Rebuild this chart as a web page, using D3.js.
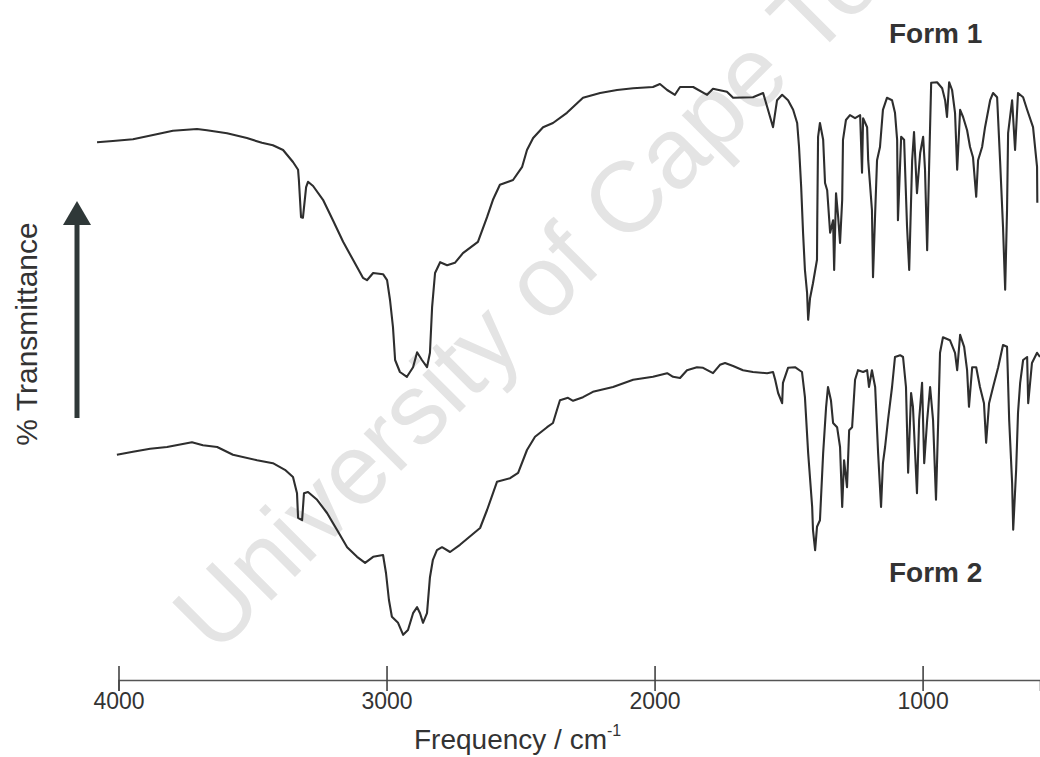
<!DOCTYPE html>
<html>
<head>
<meta charset="utf-8">
<script src="https://cdn.jsdelivr.net/npm/d3@7"></script>
<style>
  html, body { margin: 0; padding: 0; background: #ffffff; }
  svg { display: block; font-family: Arial, "Liberation Sans", sans-serif; }
</style>
</head>
<body>
<svg id="chart" width="1040" height="757"></svg>
<script>
// IR spectra of two solid forms, wavenumber (cm-1) vs. % transmittance (traces offset vertically)
const form1Wavenumber = [4080, 4021, 3946, 3871, 3797, 3707, 3670, 3595, 3521, 3465, 3424, 3386, 3349, 3330, 3327, 3319, 3312, 3300, 3293, 3274, 3237, 3200, 3162, 3125, 3088, 3073, 3050, 3013, 2998, 2987, 2976, 2968, 2950, 2924, 2901, 2886, 2868, 2849, 2838, 2830, 2819, 2800, 2774, 2745, 2715, 2659, 2625, 2603, 2577, 2528, 2494, 2476, 2453, 2416, 2379, 2327, 2267, 2203, 2140, 2080, 2006, 1980, 1953, 1924, 1905, 1856, 1804, 1782, 1730, 1707, 1633, 1595, 1580, 1558, 1543, 1524, 1502, 1483, 1468, 1461, 1453, 1446, 1439, 1431, 1427, 1420, 1409, 1394, 1393, 1390, 1383, 1371, 1364, 1356, 1345, 1334, 1330, 1323, 1315, 1308, 1300, 1297, 1286, 1271, 1252, 1233, 1226, 1222, 1207, 1203, 1189, 1185, 1177, 1170, 1159, 1148, 1133, 1114, 1103, 1095, 1092, 1080, 1069, 1058, 1050, 1039, 1032, 1021, 1009, 998, 991, 983, 976, 968, 946, 927, 916, 909, 901, 890, 879, 871, 860, 849, 834, 823, 812, 800, 793, 778, 767, 748, 737, 722, 711, 700, 692, 685, 681, 666, 655, 644, 625, 610, 588, 573, 572];
const form1Transmittance = [86.3, 86.5, 86.8, 87.5, 88.2, 88.5, 88.3, 87.8, 87.0, 86.2, 85.8, 85.0, 83.0, 81.7, 80.0, 73.8, 73.7, 78.8, 79.7, 79.0, 76.7, 73.3, 69.7, 66.7, 63.7, 63.3, 64.5, 64.3, 63.3, 60.0, 55.5, 50.0, 48.0, 47.2, 48.8, 51.3, 50.0, 48.8, 51.2, 58.8, 64.5, 66.3, 65.8, 66.2, 67.8, 69.7, 73.8, 76.7, 79.2, 80.0, 82.2, 85.0, 87.0, 88.8, 89.5, 91.2, 93.7, 94.5, 95.0, 95.3, 95.5, 96.0, 95.0, 94.2, 95.5, 95.5, 94.2, 95.2, 94.7, 93.7, 93.8, 94.5, 92.2, 88.8, 93.3, 94.2, 93.3, 91.7, 89.5, 85.5, 78.8, 71.2, 65.0, 61.2, 56.7, 60.3, 62.8, 66.7, 73.3, 87.2, 89.5, 86.7, 79.5, 78.3, 71.2, 73.3, 65.0, 77.8, 73.8, 69.5, 76.7, 86.7, 90.0, 90.8, 90.3, 90.8, 81.2, 90.3, 88.8, 83.3, 75.0, 63.8, 74.5, 83.3, 85.5, 91.7, 93.7, 93.3, 91.2, 86.7, 73.3, 87.2, 86.7, 72.2, 65.0, 83.3, 88.0, 77.8, 84.5, 87.2, 81.7, 68.3, 81.7, 96.2, 96.3, 95.3, 93.3, 90.5, 96.3, 95.0, 91.2, 81.7, 91.7, 90.5, 88.3, 85.5, 83.8, 77.2, 83.3, 85.5, 88.8, 93.3, 94.5, 93.8, 83.3, 72.2, 61.7, 75.0, 87.8, 93.3, 85.0, 94.5, 93.8, 91.7, 88.8, 82.2, 76.2];

const form2Wavenumber = [4006, 3946, 3882, 3819, 3726, 3685, 3632, 3573, 3483, 3424, 3379, 3349, 3334, 3330, 3315, 3308, 3293, 3259, 3222, 3185, 3147, 3110, 3080, 3050, 3013, 3002, 2991, 2980, 2957, 2938, 2920, 2901, 2886, 2875, 2864, 2849, 2838, 2827, 2812, 2793, 2763, 2726, 2651, 2625, 2588, 2539, 2509, 2476, 2446, 2401, 2379, 2364, 2353, 2323, 2304, 2267, 2230, 2155, 2080, 2006, 1953, 1931, 1905, 1879, 1842, 1819, 1782, 1756, 1737, 1707, 1670, 1633, 1580, 1558, 1550, 1539, 1524, 1521, 1502, 1476, 1450, 1439, 1427, 1412, 1409, 1401, 1394, 1383, 1371, 1360, 1353, 1342, 1334, 1319, 1308, 1300, 1293, 1282, 1274, 1263, 1252, 1241, 1222, 1207, 1200, 1189, 1177, 1166, 1155, 1148, 1140, 1129, 1114, 1103, 1084, 1073, 1062, 1054, 1043, 1036, 1021, 1013, 1002, 994, 983, 972, 961, 950, 942, 935, 924, 898, 879, 871, 860, 845, 834, 827, 815, 800, 786, 771, 763, 752, 737, 718, 700, 685, 677, 666, 662, 651, 644, 636, 625, 610, 606, 592, 573, 562];
const form2Transmittance = [34.2, 34.7, 35.2, 35.5, 36.3, 35.8, 35.5, 34.2, 33.3, 32.8, 31.7, 30.5, 27.8, 23.7, 23.3, 27.8, 28.0, 26.7, 24.5, 21.7, 18.8, 17.2, 16.2, 17.2, 17.5, 14.5, 10.0, 7.2, 6.2, 4.2, 5.0, 7.8, 8.8, 7.8, 6.2, 7.8, 13.8, 16.7, 18.3, 18.8, 18.0, 19.2, 22.0, 25.0, 29.7, 30.3, 31.2, 35.0, 37.2, 38.8, 39.5, 41.7, 43.3, 43.7, 43.2, 43.8, 44.7, 45.5, 46.7, 47.2, 47.8, 47.2, 47.0, 48.3, 48.8, 48.7, 47.8, 49.2, 49.5, 49.0, 48.3, 48.0, 47.8, 48.0, 46.7, 44.5, 42.8, 46.2, 48.7, 48.8, 48.0, 43.8, 34.5, 25.5, 21.7, 18.3, 22.2, 23.3, 34.5, 42.2, 45.5, 43.3, 39.5, 38.8, 35.5, 25.5, 33.3, 28.8, 38.3, 38.8, 46.7, 48.3, 48.0, 48.3, 45.5, 48.3, 45.5, 34.5, 25.5, 32.8, 35.5, 40.0, 45.5, 50.5, 50.8, 50.5, 45.5, 31.2, 44.5, 42.2, 27.8, 40.0, 46.2, 32.8, 40.0, 45.5, 40.0, 26.7, 39.5, 51.2, 53.8, 53.3, 51.2, 48.3, 54.2, 52.2, 48.3, 42.2, 48.8, 48.8, 45.5, 42.8, 36.2, 42.8, 45.5, 48.8, 52.5, 52.2, 40.0, 29.5, 21.7, 31.7, 41.2, 46.2, 50.0, 50.5, 42.8, 49.5, 51.2, 50.5];

const tickValues = [4000, 3000, 2000, 1000];
const seriesNames = ["Form 1", "Form 2"];
const xTitle = "Frequency / cm";
const xTitleSup = "-1";
const yTitle = "% Transmittance";
const watermark = "University of Cape Town";

const svg = d3.select("#chart");
const ink = "#333333";

const x = d3.scaleLinear().domain([4000, 562]).range([118.5, 1040]);
const y = d3.scaleLinear().domain([0, 100]).range([660, 60]);

// faint diagonal watermark behind the traces
svg.append("text")
  .attr("transform", "translate(596,276) rotate(-45)")
  .attr("text-anchor", "middle")
  .attr("font-size", 100)
  .attr("fill", "#e4e4e4")
  .text(watermark);

// spectra
const line = d3.line().x(d => x(d.wn)).y(d => y(d.t));
const series = [
  d3.zip(form1Wavenumber, form1Transmittance).map(([wn, t]) => ({ wn, t })),
  d3.zip(form2Wavenumber, form2Transmittance).map(([wn, t]) => ({ wn, t }))
];
svg.selectAll("path.trace")
  .data(series)
  .join("path")
  .attr("class", "trace")
  .attr("d", line)
  .attr("fill", "none")
  .attr("stroke", "#2e2e2e")
  .attr("stroke-width", 2.1)
  .attr("stroke-linejoin", "round");

// series labels
svg.append("text").attr("x", 889).attr("y", 43)
  .attr("font-size", 28).attr("font-weight", "bold").attr("fill", ink)
  .text(seriesNames[0]);
svg.append("text").attr("x", 889).attr("y", 582)
  .attr("font-size", 28).attr("font-weight", "bold").attr("fill", ink)
  .text(seriesNames[1]);

// frequency axis with ticks crossing the baseline
const axis = svg.append("g")
  .attr("transform", "translate(0,680)")
  .call(d3.axisBottom(x).tickValues(tickValues).tickSizeOuter(0).tickSize(11).tickPadding(6)
    .tickFormat(d3.format("d")));
axis.select(".domain").attr("stroke", "#555").attr("stroke-width", 1.6);
axis.selectAll(".tick line").attr("y1", -14).attr("y2", 11).attr("stroke", "#444").attr("stroke-width", 1.6);
axis.selectAll(".tick text").attr("font-size", 23).attr("fill", ink)
  .attr("font-family", "Arial, 'Liberation Sans', sans-serif").attr("dy", "0.5em");

// axis title with superscript
const xt = svg.append("text").attr("x", 414).attr("y", 749)
  .attr("font-size", 28).attr("fill", ink);
xt.append("tspan").text(xTitle);
xt.append("tspan").attr("font-size", 16).attr("dy", -13).text(xTitleSup);

// vertical title and arrow
svg.append("text")
  .attr("transform", "translate(37,334) rotate(-90)")
  .attr("text-anchor", "middle")
  .attr("font-size", 30)
  .attr("fill", ink)
  .text(yTitle);

svg.append("line")
  .attr("x1", 77).attr("x2", 77).attr("y1", 418).attr("y2", 220)
  .attr("stroke", "#2f3838").attr("stroke-width", 5);
svg.append("path")
  .attr("d", d3.line()([[77, 201], [63, 225], [91, 225]]) + "Z")
  .attr("fill", "#2f3838");
</script>
</body>
</html>
